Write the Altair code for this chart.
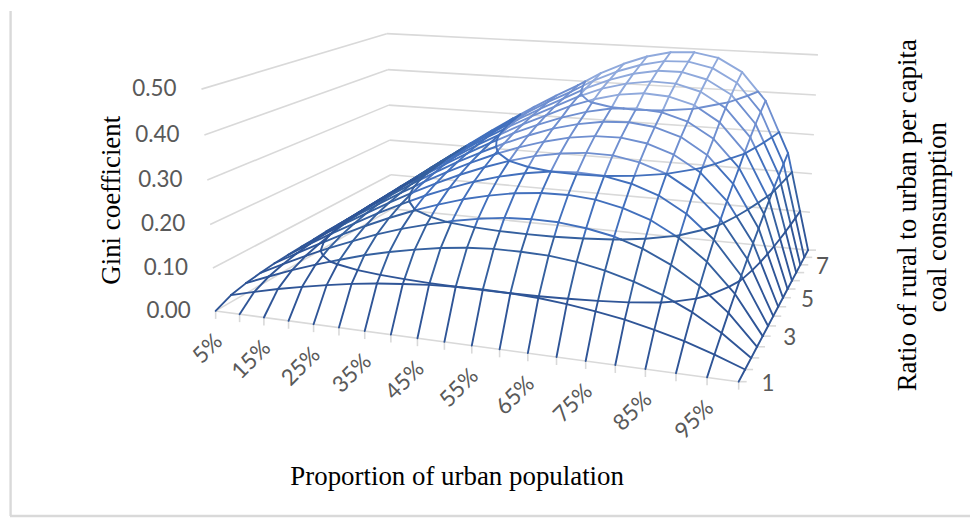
import altair as alt
import numpy as np
import pandas as pd

W, H = 964, 508

urban_share = [f"{p}%" for p in range(5, 105, 5)]
ratio = [1, 1.5, 2, 2.5, 3, 3.5, 4, 4.5, 5, 5.5, 6, 6.5, 7, 7.5, 8]
gini_ticks = [0.0, 0.1, 0.2, 0.3, 0.4, 0.5]
urban_labels = ["5%", "15%", "25%", "35%", "45%", "55%", "65%", "75%", "85%", "95%"]
ratio_labels = [1, 3, 5, 7]

r10 = [0] * 20
r15 = [.016,.031,.045,.057,.068,.078,.086,.092,.097,.100,.101,.100,.097,.091,.083,.073,.059,.043,.023,0]
r20 = [.024,.047,.069,.089,.107,.124,.138,.150,.160,.167,.171,.171,.169,.162,.150,.133,.111,.082,.045,0]
r25 = [.029,.057,.084,.109,.132,.154,.173,.189,.203,.214,.222,.225,.224,.217,.205,.185,.156,.117,.066,0]
r30 = [.033,.064,.094,.123,.150,.175,.198,.218,.236,.250,.261,.267,.268,.263,.250,.229,.196,.150,.086,0]
r35 = [.035,.069,.102,.133,.163,.191,.217,.240,.261,.278,.291,.300,.303,.300,.288,.267,.232,.180,.106,0]
r40 = [.037,.073,.108,.141,.173,.203,.231,.257,.280,.300,.316,.327,.333,.332,.321,.300,.264,.208,.124,0]
r45 = [.038,.076,.112,.147,.181,.213,.243,.271,.296,.318,.336,.350,.358,.359,.350,.329,.293,.233,.142,0]
r50 = [.040,.078,.116,.152,.188,.221,.253,.282,.309,.333,.354,.369,.379,.382,.375,.356,.319,.257,.158,0]
r55 = [.041,.080,.119,.157,.193,.228,.261,.292,.321,.346,.368,.386,.398,.402,.397,.379,.343,.279,.175,0]
r60 = [.041,.082,.121,.160,.197,.233,.268,.300,.330,.357,.384,.405,.420,.427,.423,.406,.369,.303,.191,0]
r65 = [.042,.083,.124,.163,.201,.238,.274,.307,.338,.367,.396,.420,.436,.445,.443,.427,.391,.324,.207,0]
r70 = [.043,.084,.125,.166,.205,.242,.279,.313,.345,.375,.406,.431,.450,.461,.461,.446,.412,.344,.221,0]
r75 = [.043,.085,.127,.168,.208,.246,.283,.318,.352,.382,.415,.442,.462,.475,.477,.464,.431,.362,.235,0]
r80 = [.044,.086,.128,.170,.210,.249,.287,.323,.357,.389,.424,.452,.474,.488,.491,.480,.447,.378,.248,0]
rows = [r10, r15, r20, r25, r30, r35, r40, r45, r50, r55, r60, r65, r70, r75, r80]

# Where the box of the 3-D chart sits on the page: (column, row, gini) -> (x, y)
anchors = [
    (0, 0, 0, 213, 309.5), (19, 0, 0, 740, 378), (19, 14, 0, 808, 246.5), (0, 14, 0, 392, 207),
    (0, 0, .1, 213, 266), (0, 0, .2, 210, 222), (0, 0, .3, 205, 178), (0, 0, .4, 203, 133), (0, 0, .5, 200, 87),
    (0, 14, .1, 390, 172), (0, 14, .2, 390, 137), (0, 14, .3, 388, 102), (0, 14, .4, 387, 67), (0, 14, .5, 387, 31),
    (19, 14, .1, 810, 209), (19, 14, .2, 813, 171), (19, 14, .3, 815, 132), (19, 14, .4, 817, 92), (19, 14, .5, 820, 52),
    (5, 0, 0, 338, 326), (10, 0, 0, 472, 343), (15, 0, 0, 616, 362),
    (19, 4, 0, 763, 335), (19, 8, 0, 786, 300), (19, 12, 0, 803, 265),
]
A, b = [], []
for u, v, z, x, y in anchors:
    A.append([u, v, z, 1, 0, 0, 0, 0, -x * u, -x * v, -x * z]); b.append(x)
    A.append([0, 0, 0, 0, u, v, z, 1, -y * u, -y * v, -y * z]); b.append(y)
P = np.linalg.lstsq(np.array(A, float), np.array(b, float), rcond=None)[0]


def proj(u, v, z):
    d = P[8] * u + P[9] * v + P[10] * z + 1
    return (P[0] * u + P[1] * v + P[2] * z + P[3]) / d, (P[4] * u + P[5] * v + P[6] * z + P[7]) / d


LEVELS = [.1, .2, .3, .4, .5]
BANDS = ["b0", "b1", "b2", "b3", "b4"]
COLORS = ["#2f5597", "#35609f", "#4270bd", "#6f8fd0", "#8fa9dc"]


def band(z):
    return BANDS[min(int(z / .1 - 1e-9), 4)]


blue = []


def seg(a, b_):
    x1, y1 = proj(*a)
    x2, y2 = proj(*b_)
    blue.append(dict(x=x1, y=y1, x2=x2, y2=y2, band=band((a[2] + b_[2]) / 2)))


def grid_edge(a, b_):
    za, zb = a[2], b_[2]
    cuts = [0.0]
    for L in LEVELS:
        if (za - L) * (zb - L) < 0:
            cuts.append((L - za) / (zb - za))
    cuts = sorted(cuts) + [1.0]
    for t0, t1 in zip(cuts, cuts[1:]):
        seg(tuple(a[i] + t0 * (b_[i] - a[i]) for i in range(3)),
            tuple(a[i] + t1 * (b_[i] - a[i]) for i in range(3)))


nu, nv = len(urban_share), len(ratio)
for v in range(1, nv):
    for u in range(nu - 1):
        grid_edge((u, v, rows[v][u]), (u + 1, v, rows[v][u + 1]))
for u in range(nu):
    for v in range(nv - 1):
        grid_edge((u, v, rows[v][u]), (u, v + 1, rows[v + 1][u]))

# level lines of the surface, found cell by cell from the table
for L in LEVELS[:4]:
    for v in range(nv - 1):
        for u in range(nu - 1):
            c = [(u, v), (u + 1, v), (u + 1, v + 1), (u, v + 1)]
            pts = []
            for i in range(4):
                p0, p1 = c[i], c[(i + 1) % 4]
                z0, z1 = rows[p0[1]][p0[0]], rows[p1[1]][p1[0]]
                if (z0 >= L) != (z1 >= L):
                    t = (L - z0) / (z1 - z0)
                    pts.append((p0[0] + t * (p1[0] - p0[0]), p0[1] + t * (p1[1] - p0[1]), L))
            for i in range(0, len(pts) - 1, 2):
                x1, y1 = proj(*pts[i])
                x2, y2 = proj(*pts[i + 1])
                blue.append(dict(x=x1, y=y1, x2=x2, y2=y2, band=band(L - .01)))

blue = pd.DataFrame(blue)

# walls, floor, ticks
grey = []


def gline(a, b_):
    x1, y1 = proj(*a)
    x2, y2 = proj(*b_)
    grey.append(dict(x=x1, y=y1, x2=x2, y2=y2))


for z in gini_ticks:
    gline((0, 0, z), (0, 14, z))
    gline((0, 14, z), (19, 14, z))
gline((0, 0, 0), (19, 0, 0))
gline((19, 0, 0), (19, 14, 0))
for u in range(nu):
    x, y = proj(u, 0, 0)
    grey.append(dict(x=x, y=y, x2=x, y2=y + 8))
for v in range(nv):
    x, y = proj(19, v, 0)
    grey.append(dict(x=x, y=y, x2=x + 8, y2=y))
grey = pd.DataFrame(grey)

frame = pd.DataFrame([dict(x=8.6, y=8, x2=8.6, y2=515), dict(x=8, y=515, x2=972, y2=515)])

# tick labels
lab_z = []
for z in gini_ticks:
    x, y = proj(0, 0, z)
    lab_z.append(dict(x=x - 25, y=y, t=f"{z:.2f}"))
lab_z = pd.DataFrame(lab_z)

lab_u = []
for i, t in enumerate(urban_labels):
    x, y = proj(2 * i, 0, 0)
    lab_u.append(dict(x=x + 3, y=y + 27, t=t))
lab_u = pd.DataFrame(lab_u)

lab_v = []
for t in ratio_labels:
    v = ratio.index(t)
    x, y = proj(19, v, 0)
    lab_v.append(dict(x=x + 23 - .6 * v, y=y + 2, t=str(t)))
lab_v = pd.DataFrame(lab_v)

titles = pd.DataFrame([
    dict(x=457, y=476, t="Proportion of urban population", a=0),
    dict(x=110, y=198, t="Gini coefficient", a=270),
    dict(x=910, y=213, t="Ratio of rural to urban per capita", a=270),
    dict(x=940, y=215, t="coal consumption", a=270),
])

xs = alt.Scale(domain=[8, 8 + W], range=[0, W], nice=False, zero=False)
ys = alt.Scale(domain=[8 + H, 8], nice=False, zero=False)
X = alt.X("x:Q", scale=xs, axis=None)
Y = alt.Y("y:Q", scale=ys, axis=None)

frame_l = alt.Chart(frame).mark_rule(color="#d9d9d9", strokeWidth=2.4).encode(X, Y, x2="x2:Q", y2="y2:Q")
grey_l = alt.Chart(grey).mark_rule(color="#d9d9d9", strokeWidth=1.6).encode(X, Y, x2="x2:Q", y2="y2:Q")
blue_l = alt.Chart(blue).mark_rule(strokeWidth=1.9, strokeCap="round").encode(
    X, Y, x2="x2:Q", y2="y2:Q",
    color=alt.Color("band:N", scale=alt.Scale(domain=BANDS, range=COLORS), legend=None),
)
TXT = dict(font="Lato", fontSize=22.5, color="#595959")
z_l = alt.Chart(lab_z).mark_text(align="right", baseline="middle", **TXT).encode(X, Y, text="t:N")
u_l = alt.Chart(lab_u).mark_text(align="right", baseline="middle", angle=315, **TXT).encode(X, Y, text="t:N")
v_l = alt.Chart(lab_v).mark_text(align="left", baseline="middle", **TXT).encode(X, Y, text="t:N")
title_layers = [
    alt.Chart(titles[titles.a == a]).mark_text(
        align="center", baseline="middle", angle=a, font="Liberation Serif", fontSize=27, color="#000000"
    ).encode(X, Y, text="t:N")
    for a in (0, 270)
]

chart = alt.layer(frame_l, grey_l, blue_l, z_l, u_l, v_l, *title_layers).properties(
    width=W, height=H, padding=0
).configure_view(stroke=None)

chart.save("out.html", embed_options={"renderer": "svg", "actions": False})
